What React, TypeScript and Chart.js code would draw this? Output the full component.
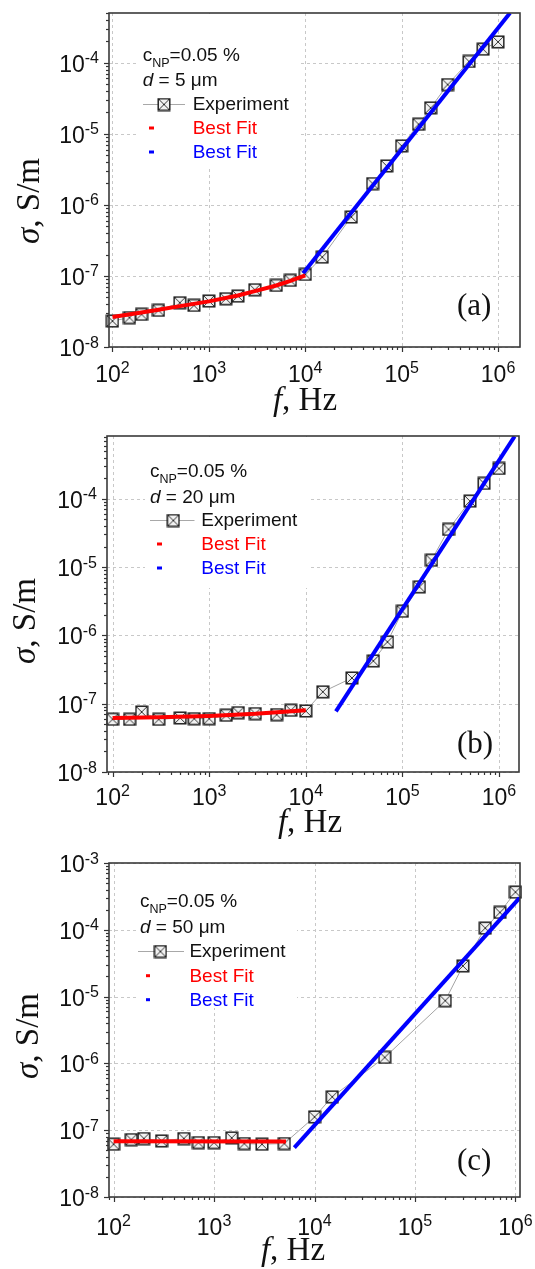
import React, { useEffect, useRef } from "react";
import { Chart, registerables } from "chart.js";

Chart.register(...registerables);

// ---------------- data ----------------
const freqA = [100, 150, 200, 300, 500, 700, 1000, 1500, 2000, 3000, 5000, 7000, 10000, 15000, 30000, 50000, 70000, 100000, 150000, 200000, 300000, 500000, 700000, 1000000];
const sigmaA = [2.32e-8, 2.59e-8, 2.88e-8, 3.28e-8, 4.2e-8, 3.85e-8, 4.43e-8, 4.78e-8, 5.2e-8, 6.4e-8, 7.36e-8, 8.67e-8, 1.05e-7, 1.84e-7, 6.75e-7, 1.99e-6, 3.52e-6, 6.75e-6, 1.36e-5, 2.31e-5, 4.92e-5, 1.04e-4, 1.55e-4, 1.96e-4];
const fitLowFreqA = [100, 200, 300, 500, 1000, 2000, 3000, 5000, 7000, 10000];
const fitLowSigmaA = [2.64e-8, 3.05e-8, 3.35e-8, 3.76e-8, 4.38e-8, 5.3e-8, 6.1e-8, 7.33e-8, 8.5e-8, 1.02e-7];
const fitHighFreqA = [9500, 1330000];
const fitHighSigmaA = [1.09e-7, 5.0e-4];

const freqB = [100, 150, 200, 300, 500, 700, 1000, 1500, 2000, 3000, 5000, 7000, 10000, 15000, 30000, 50000, 70000, 100000, 150000, 200000, 300000, 500000, 700000, 1000000];
const sigmaB = [5.91e-8, 5.9e-8, 7.57e-8, 5.9e-8, 6.18e-8, 6.04e-8, 6.04e-8, 6.76e-8, 7.39e-8, 7.17e-8, 6.92e-8, 8.01e-8, 7.83e-8, 1.49e-7, 2.38e-7, 4.23e-7, 8.03e-7, 2.26e-6, 5.14e-6, 1.26e-5, 3.56e-5, 9.25e-5, 1.68e-4, 2.78e-4];
const fitLowFreqB = [100, 300, 1000, 3000, 10000];
const fitLowSigmaB = [6.18e-8, 6.35e-8, 6.62e-8, 7.1e-8, 7.99e-8];
const fitHighFreqB = [20500, 1450000];
const fitHighSigmaB = [7.74e-8, 8.2e-4];

const freqC = [100, 150, 200, 300, 500, 700, 1000, 1500, 2000, 3000, 5000, 10000, 15000, 50000, 200000, 300000, 500000, 700000, 1000000];
const sigmaC = [6.17e-8, 7.24e-8, 7.5e-8, 6.92e-8, 7.5e-8, 6.53e-8, 6.53e-8, 7.67e-8, 6.31e-8, 6.17e-8, 6.31e-8, 1.58e-7, 3.16e-7, 1.23e-6, 8.7e-6, 2.88e-5, 1.06e-4, 1.82e-4, 3.67e-4];
const fitLowFreqC = [100, 5200];
const fitLowSigmaC = [6.85e-8, 6.75e-8];
const fitHighFreqC = [6300, 1100000];
const fitHighSigmaC = [5.5e-8, 3.0e-4];

const xDecades = [2, 3, 4, 5, 6];
const yDecadesAB = [-8, -7, -6, -5, -4];
const yDecadesC = [-8, -7, -6, -5, -4, -3];
const concentration = "0.05 %";
const thicknesses = ["5", "20", "50"];
const letters = ["(a)", "(b)", "(c)"];
const legendExperiment = "Experiment";
const legendFit = "Best Fit";
const yTitleSymbol = "σ";
const yTitleRest = ", S/m";
const xTitleSymbol = "f";
const xTitleRest = ", Hz";

// ---------------- layout ----------------
const SANS = '"Liberation Sans", Arial, sans-serif';
const SERIF = '"Liberation Serif", "Times New Roman", serif';

const panels = [
  {
    freq: freqA, sigma: sigmaA, lowF: fitLowFreqA, lowS: fitLowSigmaA, highF: fitHighFreqA, highS: fitHighSigmaA,
    xMin: 92, xMax: 1.69e6, yMin: 1e-8, yMax: 5e-4, yDecades: yDecadesAB,
    thickness: thicknesses[0], letter: letters[0], height: 420,
    area: { l: 109, r: 520, t: 13, b: 347 },
    lg: { boxL: 138, boxR: 298, boxB: 166, cx: 142.7, b1: 61, b2: 86, b3: 110, b4: 134, b5: 158, lx1: 143, lx2: 185, mx: 164, tx: 192.7, dx1: 149, dx2: 154 },
    tt: { yBase: 39, yMid: 201, xMid: 305, xBase: 410, xl: 35, lx: 457, lb: 315 },
  },
  {
    freq: freqB, sigma: sigmaB, lowF: fitLowFreqB, lowS: fitLowSigmaB, highF: fitHighFreqB, highS: fitHighSigmaB,
    xMin: 87.5, xMax: 1.61e6, yMin: 1e-8, yMax: 8.3e-4, yDecades: yDecadesAB,
    thickness: thicknesses[1], letter: letters[1], height: 420,
    area: { l: 107, r: 519, t: 16, b: 352 },
    lg: { boxL: 145, boxR: 309, boxB: 168, cx: 150, b1: 57, b2: 82.5, b3: 106, b4: 130, b5: 154, lx1: 150, lx2: 194.5, mx: 173.3, tx: 201.3, dx1: 157, dx2: 162 },
    tt: { yBase: 35, yMid: 201, xMid: 310, xBase: 412, xl: 33, lx: 457, lb: 333 },
  },
  {
    freq: freqC, sigma: sigmaC, lowF: fitLowFreqC, lowS: fitLowSigmaC, highF: fitHighFreqC, highS: fitHighSigmaC,
    xMin: 90, xMax: 1.11e6, yMin: 1e-8, yMax: 1e-3, yDecades: yDecadesC,
    thickness: thicknesses[2], letter: letters[2], height: 429,
    area: { l: 109, r: 520, t: 23, b: 357 },
    lg: { boxL: 136, boxR: 297, boxB: 168, cx: 140, b1: 66.7, b2: 92.7, b3: 117, b4: 141.7, b5: 165.7, lx1: 138, lx2: 184, mx: 160.4, tx: 189.4, dx1: 146, dx2: 150 },
    tt: { yBase: 38, yMid: 196, xMid: 293, xBase: 420, xl: 38, lx: 457, lb: 330 },
  },
];

type Run = { text: string; font: string; color?: string; dy?: number };

function runsWidth(ctx: CanvasRenderingContext2D, runs: Run[]) {
  let w = 0;
  for (const r of runs) {
    ctx.font = r.font;
    w += ctx.measureText(r.text).width;
  }
  return w;
}

function drawRuns(ctx: CanvasRenderingContext2D, x: number, y: number, runs: Run[]) {
  let cx = x;
  for (const r of runs) {
    ctx.font = r.font;
    ctx.fillStyle = r.color || "#111";
    ctx.fillText(r.text, cx, y + (r.dy || 0));
    cx += ctx.measureText(r.text).width;
  }
  return cx;
}

function makeMarker() {
  const c = document.createElement("canvas");
  c.width = 14;
  c.height = 14;
  const g = c.getContext("2d")!;
  g.fillStyle = "#f2f2f2";
  g.fillRect(1, 1, 12, 12);
  g.strokeStyle = "#151515";
  g.lineWidth = 1.4;
  g.strokeRect(1.2, 1.2, 11.6, 11.6);
  g.lineWidth = 1;
  g.strokeStyle = "#333";
  g.beginPath();
  g.moveTo(1.8, 1.8);
  g.lineTo(12.2, 12.2);
  g.moveTo(12.2, 1.8);
  g.lineTo(1.8, 12.2);
  g.stroke();
  return c;
}

function decoPlugin(p: any, marker: HTMLCanvasElement) {
  const line = (ctx: CanvasRenderingContext2D, x1: number, y1: number, x2: number, y2: number) => {
    ctx.beginPath();
    ctx.moveTo(x1, y1);
    ctx.lineTo(x2, y2);
    ctx.stroke();
  };
  return {
    id: "deco",
    beforeDatasetsDraw(chart: any) {
      const { ctx, chartArea: a, scales } = chart;
      const x = scales.x, y = scales.y;
      ctx.save();
      ctx.strokeStyle = "#c8c8c8";
      ctx.lineWidth = 1;
      ctx.setLineDash([3, 3]);
      for (const d of xDecades) {
        const v = Math.pow(10, d);
        if (v < p.xMin || v > p.xMax) continue;
        const px = Math.round(x.getPixelForValue(v)) + 0.5;
        line(ctx, px, a.top, px, a.bottom);
      }
      for (const d of p.yDecades) {
        const v = Math.pow(10, d);
        const py = Math.round(y.getPixelForValue(v)) + 0.5;
        line(ctx, a.left, py, a.right, py);
      }
      ctx.setLineDash([]);
      const lg = p.lg;
      ctx.fillStyle = "#ffffff";
      ctx.fillRect(lg.boxL, a.top + 1, lg.boxR - lg.boxL, lg.boxB - a.top - 1);
      ctx.restore();
    },
    afterDatasetsDraw(chart: any) {
      const { ctx, chartArea: a, scales } = chart;
      const x = scales.x, y = scales.y;
      ctx.save();
      // ticks
      ctx.strokeStyle = "#333";
      ctx.lineWidth = 1.2;
      for (let d = 1; d <= 6; d++) {
        for (let k = 1; k <= 9; k++) {
          const v = k * Math.pow(10, d);
          if (v < p.xMin || v > p.xMax) continue;
          const px = Math.round(x.getPixelForValue(v)) + 0.5;
          line(ctx, px, a.bottom, px, a.bottom + (k === 1 ? 5 : 3));
        }
      }
      for (let d = -9; d <= -3; d++) {
        for (let k = 1; k <= 9; k++) {
          const v = k * Math.pow(10, d);
          if (v < p.yMin * 0.999 || v > p.yMax) continue;
          const py = Math.round(y.getPixelForValue(v)) + 0.5;
          line(ctx, a.left - (k === 1 ? 5 : 3), py, a.left, py);
        }
      }
      // frame
      ctx.strokeStyle = "#3a3a3a";
      ctx.lineWidth = 1.6;
      ctx.strokeRect(a.left, a.top, a.right - a.left, a.bottom - a.top);

      // tick labels
      ctx.textBaseline = "alphabetic";
      ctx.textAlign = "left";
      const baseFont = `23px ${SANS}`;
      const expFont = `16px ${SANS}`;
      for (const d of xDecades) {
        const px = x.getPixelForValue(Math.pow(10, d));
        const runs: Run[] = [
          { text: "10", font: baseFont },
          { text: String(d), font: expFont, dy: -9 },
        ];
        const w = runsWidth(ctx, runs);
        drawRuns(ctx, px - w / 2, a.bottom + p.tt.xl, runs);
      }
      for (const d of p.yDecades) {
        const py = y.getPixelForValue(Math.pow(10, d));
        const runs: Run[] = [
          { text: "10", font: baseFont },
          { text: String(d), font: expFont, dy: -8.5 },
        ];
        const w = runsWidth(ctx, runs);
        drawRuns(ctx, a.left - 10 - w, py + 9, runs);
      }

      // axis titles
      const tFont = `33px ${SERIF}`;
      const tItal = `italic 33px ${SERIF}`;
      const yRuns: Run[] = [
        { text: yTitleSymbol, font: tItal },
        { text: yTitleRest, font: tFont },
      ];
      const yw = runsWidth(ctx, yRuns);
      ctx.save();
      ctx.translate(p.tt.yBase, p.tt.yMid);
      ctx.rotate(-Math.PI / 2);
      drawRuns(ctx, -yw / 2, 0, yRuns);
      ctx.restore();
      const xRuns: Run[] = [
        { text: xTitleSymbol, font: tItal },
        { text: xTitleRest, font: tFont },
      ];
      const xw = runsWidth(ctx, xRuns);
      drawRuns(ctx, p.tt.xMid - xw / 2, p.tt.xBase, xRuns);

      // panel letter
      drawRuns(ctx, p.tt.lx, p.tt.lb, [{ text: p.letter, font: `31px ${SERIF}` }]);

      // legend
      const lg = p.lg;
      const lf = `19px ${SANS}`;
      drawRuns(ctx, lg.cx, lg.b1, [
        { text: "c", font: lf },
        { text: "NP", font: `12.5px ${SANS}`, dy: 6 },
        { text: "=" + concentration, font: lf },
      ]);
      drawRuns(ctx, lg.cx, lg.b2, [
        { text: "d", font: `italic ${lf}` },
        { text: ` = ${p.thickness} μm`, font: lf },
      ]);
      ctx.strokeStyle = "#a8a8a8";
      ctx.lineWidth = 1;
      line(ctx, lg.lx1, lg.b3 - 5.5, lg.lx2, lg.b3 - 5.5);
      ctx.drawImage(marker, lg.mx - 7, lg.b3 - 12.5);
      drawRuns(ctx, lg.tx, lg.b3, [{ text: legendExperiment, font: lf }]);
      ctx.lineWidth = 3;
      ctx.strokeStyle = "#ff0000";
      line(ctx, lg.dx1, lg.b4 - 6, lg.dx2, lg.b4 - 6);
      drawRuns(ctx, lg.tx, lg.b4, [{ text: legendFit, font: lf, color: "#ff0000" }]);
      ctx.strokeStyle = "#0000ff";
      line(ctx, lg.dx1, lg.b5 - 6, lg.dx2, lg.b5 - 6);
      drawRuns(ctx, lg.tx, lg.b5, [{ text: legendFit, font: lf, color: "#0000ff" }]);
      ctx.restore();
    },
  };
}

const toPts = (xs: number[], ys: number[]) => xs.map((v, i) => ({ x: v, y: ys[i] }));

function PanelChart({ p }: { p: any }) {
  const ref = useRef<HTMLCanvasElement | null>(null);
  useEffect(() => {
    const marker = makeMarker();
    const chart = new Chart(ref.current!, {
      type: "scatter",
      data: {
        datasets: [
          {
            label: legendFit,
            data: toPts(p.lowF, p.lowS),
            showLine: true,
            borderColor: "#ff0000",
            borderWidth: 4,
            pointRadius: 0,
            clip: 0,
            order: 0,
          },
          {
            label: legendFit,
            data: toPts(p.highF, p.highS),
            showLine: true,
            borderColor: "#0000ff",
            borderWidth: 4,
            pointRadius: 0,
            clip: 0,
            order: 1,
          },
          {
            label: legendExperiment,
            data: toPts(p.freq, p.sigma),
            showLine: true,
            borderColor: "#a4a4a4",
            borderWidth: 1,
            pointStyle: marker,
            pointRadius: 7,
            clip: false,
            order: 2,
          },
        ],
      } as any,
      options: {
        responsive: false,
        animation: false,
        events: [],
        layout: {
          padding: { left: p.area.l, right: 535 - p.area.r, top: p.area.t, bottom: p.height - p.area.b },
        },
        plugins: { legend: { display: false }, tooltip: { enabled: false }, title: { display: false } },
        scales: {
          x: { type: "logarithmic", min: p.xMin, max: p.xMax, display: false },
          y: { type: "logarithmic", min: p.yMin, max: p.yMax, display: false },
        },
      } as any,
      plugins: [decoPlugin(p, marker)],
    });
    return () => chart.destroy();
  }, [p]);
  return <canvas ref={ref} width={535} height={p.height} style={{ display: "block", width: 535, height: p.height }} />;
}

export default function App() {
  return (
    <div style={{ position: "absolute", left: 0, top: 0, width: 535, height: 1269, background: "#fff" }}>
      {panels.map((p, i) => (
        <PanelChart key={i} p={p} />
      ))}
    </div>
  );
}
